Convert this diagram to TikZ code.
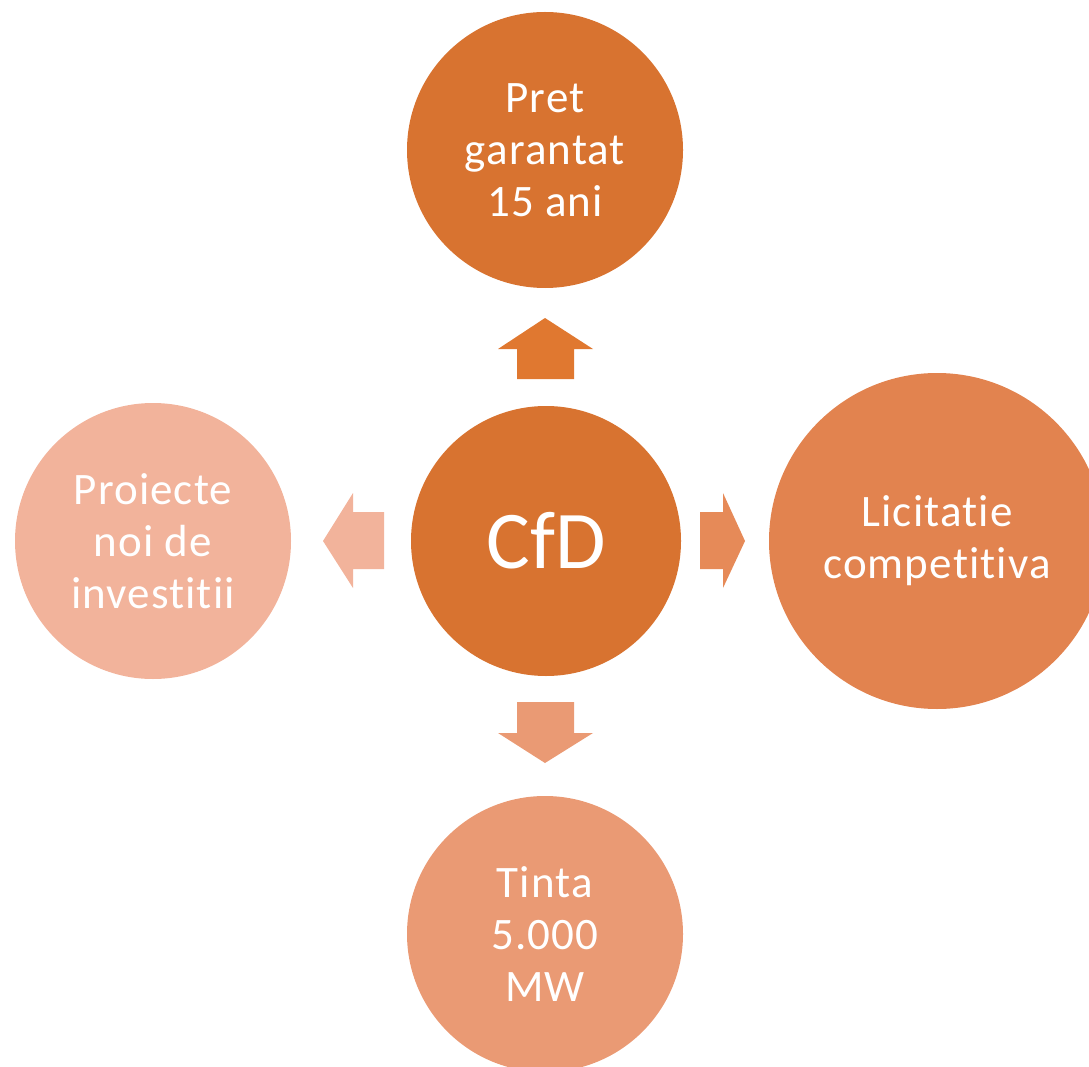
\documentclass[tikz,border=0pt]{standalone}
\usepackage{fontspec}
\setmainfont{Carlito}[Ligatures={NoCommon}]
\newfontfamily\widefont{Carlito}[Ligatures={NoCommon},LetterSpace=2.5]
\definecolor{cCenter}{HTML}{D87330}
\definecolor{cTop}{HTML}{D87330}
\definecolor{aTop}{HTML}{E07830}
\definecolor{cRight}{HTML}{E2834F}
\definecolor{aRight}{HTML}{E68A58}
\definecolor{cBottom}{HTML}{EA9A74}
\definecolor{cLeft}{HTML}{F2B39B}
\begin{document}
\begin{tikzpicture}[x=1pt,y=-1pt,
  bubble/.style={circle,inner sep=0pt,text=white,align=center,
     font=\widefont\fontsize{45}{52}\selectfont},
]
\useasboundingbox (0,0) rectangle (1089,1067);
\clip (0,0) rectangle (1089,1067);
% circles
\node[bubble,fill=cCenter,minimum size=270pt,font=\normalfont\fontsize{82}{90}\selectfont] (center) at (546,541) {CfD};
\node[bubble,fill=cTop,minimum size=276pt] (top) at (545,150) {Pret\\garantat\\15 ani};
\node[bubble,fill=cRight,minimum size=336pt] (right) at (937,541) {Licitatie\\competitiva};
\node[bubble,fill=cBottom,minimum size=276pt] (bottom) at (545,934) {Tinta\\5.000\\MW};
\node[bubble,fill=cLeft,minimum size=276pt] (left) at (153,541) {Proiecte\\noi de\\investitii};
% arrows
\fill[aTop] (517,379) -- (517,349) -- (498,349) -- (545,318) -- (593,349) -- (574,349) -- (574,379) -- cycle;
\fill[aRight] (700,512) -- (723,512) -- (723,493) -- (745,541) -- (723,588) -- (723,569) -- (700,569) -- cycle;
\fill[cBottom] (517,702) -- (517,733) -- (498,733) -- (545,763) -- (593,733) -- (574,733) -- (574,702) -- cycle;
\fill[cLeft] (384,512) -- (353,512) -- (353,493) -- (323,541) -- (353,588) -- (353,569) -- (384,569) -- cycle;
\end{tikzpicture}
\end{document}
